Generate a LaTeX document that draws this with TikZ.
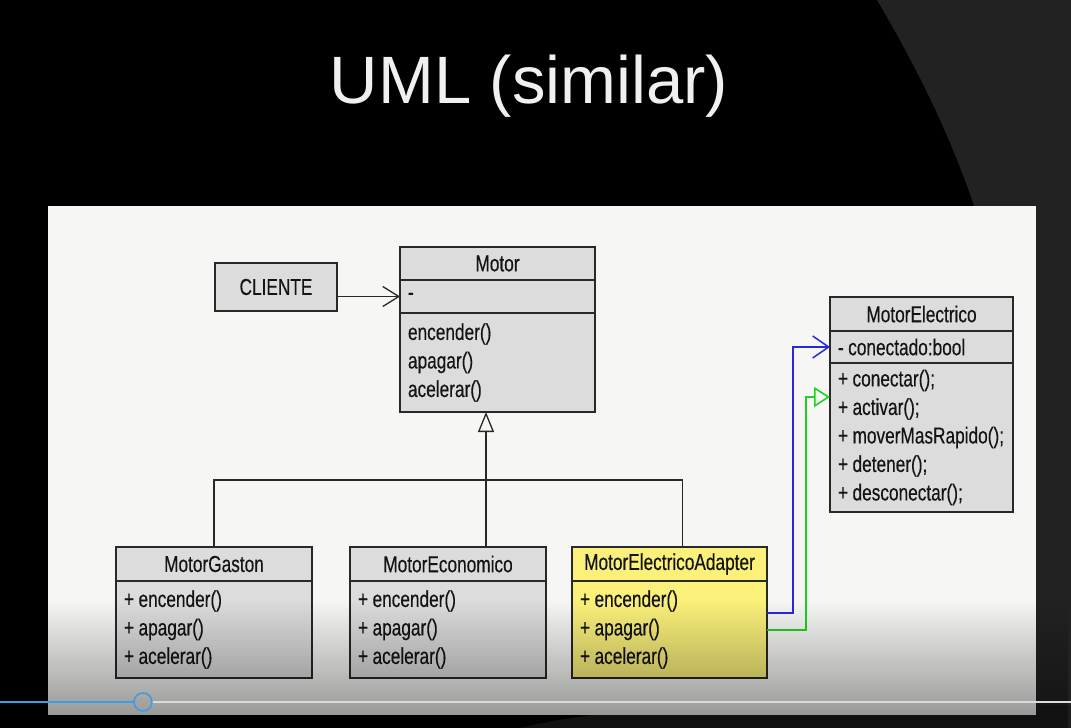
\documentclass[tikz,border=0pt]{standalone}
\usepackage{fontspec}
\setmainfont{Liberation Sans}
\newfontfamily\umlfont[FakeStretch=0.75,FakeBold=0.35]{Liberation Sans}
\newcommand\umltexto{\umlfont\fontsize{23}{28.5}\selectfont\spaceskip 4.5pt\relax}
\usetikzlibrary{positioning,arrows.meta,fadings}
\definecolor{panelgris}{RGB}{246,246,244}
\definecolor{cajagris}{RGB}{220,220,220}
\definecolor{cajaamarilla}{RGB}{250,240,122}
\definecolor{bordecaja}{RGB}{40,40,40}
\definecolor{oscuro}{RGB}{34,34,34}
\definecolor{azul}{RGB}{40,40,220}
\definecolor{verde}{RGB}{30,210,30}
\definecolor{barraazul}{RGB}{62,155,232}
\tikzfading[name=fadesur, top color=transparent!100, bottom color=transparent!0]
\tikzset{
  textouml/.style={font={\umltexto}, text=black!92},
  cabecera/.style={textouml, draw=bordecaja, line width=1.4pt, fill=cajagris,
    inner sep=0pt, outer sep=0pt, minimum height=34pt},
  compartimento/.style={textouml, draw=bordecaja, line width=1.4pt, fill=cajagris,
    inner xsep=8pt, inner ysep=0pt, outer sep=0pt, align=flush left},
  amarilla/.style={fill=cajaamarilla},
  linea/.style={draw=bordecaja, line width=1.3pt},
  asoc/.style={linea, -{Straight Barb[length=16pt,width=20pt]}},
  herencia/.style={linea, -{Triangle[open,length=20pt,width=16pt]}},
  asocazul/.style={draw=azul, line width=1.5pt, -{Straight Barb[length=16pt,width=22pt]}},
  realiza/.style={draw=verde, line width=1.6pt, -{Triangle[open,length=16pt,width=20pt]}}
}
\begin{document}
\begin{tikzpicture}[x=1pt,y=-1pt]
  \useasboundingbox (0,0) rectangle (1071,728);
  % fondo
  \fill[black] (0,0) rectangle (1071,728);
  \fill[oscuro] (877,0) .. controls (915,65) and (955,140) .. (985,240) -- (1000,728) -- (1071,728) -- (1071,0) -- cycle;
  \fill[oscuro!85!black] (520,728) .. controls (560,718) and (620,710) .. (700,705) -- (1071,705) -- (1071,728) -- cycle;
  \node[font=\fontsize{67}{80}\selectfont, text=white!94!black, anchor=base] (titulo) at (529,103) {UML (similar)};
  \fill[panelgris] (48,206) rectangle (1036,715);
  % clases
  \node[cabecera, minimum width=122pt, minimum height=48pt, anchor=north west] (cliente) at (215,263) {CLIENTE};
  \node[cabecera, minimum width=195pt, minimum height=33pt, anchor=north west] (motor) at (400,247) {Motor};
  \node[compartimento, text width=179pt, minimum height=33pt, below=0pt of motor] (motoratr) {-};
  \node[compartimento, text width=179pt, minimum height=99pt, below=0pt of motoratr] (motormet) {encender()\\apagar()\\acelerar()};
  \node[cabecera, minimum width=196pt, anchor=north west] (gastcab) at (116,547) {MotorGaston};
  \node[compartimento, text width=180pt, minimum height=97pt, below=0pt of gastcab] (gastmet) {+ encender()\\+ apagar()\\+ acelerar()};
  \node[cabecera, minimum width=196pt, anchor=north west] (econcab) at (350,547) {MotorEconomico};
  \node[compartimento, text width=180pt, minimum height=97pt, below=0pt of econcab] (econmet) {+ encender()\\+ apagar()\\+ acelerar()};
  \node[cabecera, amarilla, minimum width=195pt, anchor=north west] (adapcab) at (572,547) {MotorElectricoAdapter};
  \node[compartimento, amarilla, text width=179pt, minimum height=97pt, below=0pt of adapcab] (adapmet) {+ encender()\\+ apagar()\\+ acelerar()};
  \node[cabecera, minimum width=183pt, anchor=north west] (eleccab) at (830,297) {MotorElectrico};
  \node[compartimento, text width=167pt, minimum height=32pt, below=0pt of eleccab] (elecatr) {- conectado:bool};
  \node[compartimento, text width=167pt, minimum height=149pt, below=0pt of elecatr] (elecmet) {+ conectar();\\+ activar();\\+ moverMasRapido();\\+ detener();\\+ desconectar();};
  % relaciones
  \draw[asoc] (cliente.east |- motoratr.west) -- (motoratr.west);
  \coordinate (barra) at (486,480);
  \draw[herencia] (barra) -- (barra |- motormet.south);
  \draw[linea] (gastcab.north) |- (barra);
  \draw[linea] ([xshift=13pt]adapcab.north) |- (barra);
  \draw[linea] (barra) -- (barra |- econcab.north);
  \draw[asocazul] ([yshift=16.5pt]adapmet.east) -- ++(26,0) |- (elecatr.west);
  \draw[realiza] ([yshift=-0.5pt]adapmet.east) -- ++(39,0) |- ([yshift=40.5pt]elecmet.west);
  % barra del video
  \fill[black, fill opacity=0.42, path fading=fadesur] (0,600) rectangle (1071,728);
  \draw[white!72!gray, line width=1.5pt] (152,702) -- (1071,702);
  \draw[barraazul, line width=1.5pt] (0,702) -- (134,702);
  \draw[barraazul, line width=1.5pt] (143,702) circle [radius=9pt];
\end{tikzpicture}
\end{document}
